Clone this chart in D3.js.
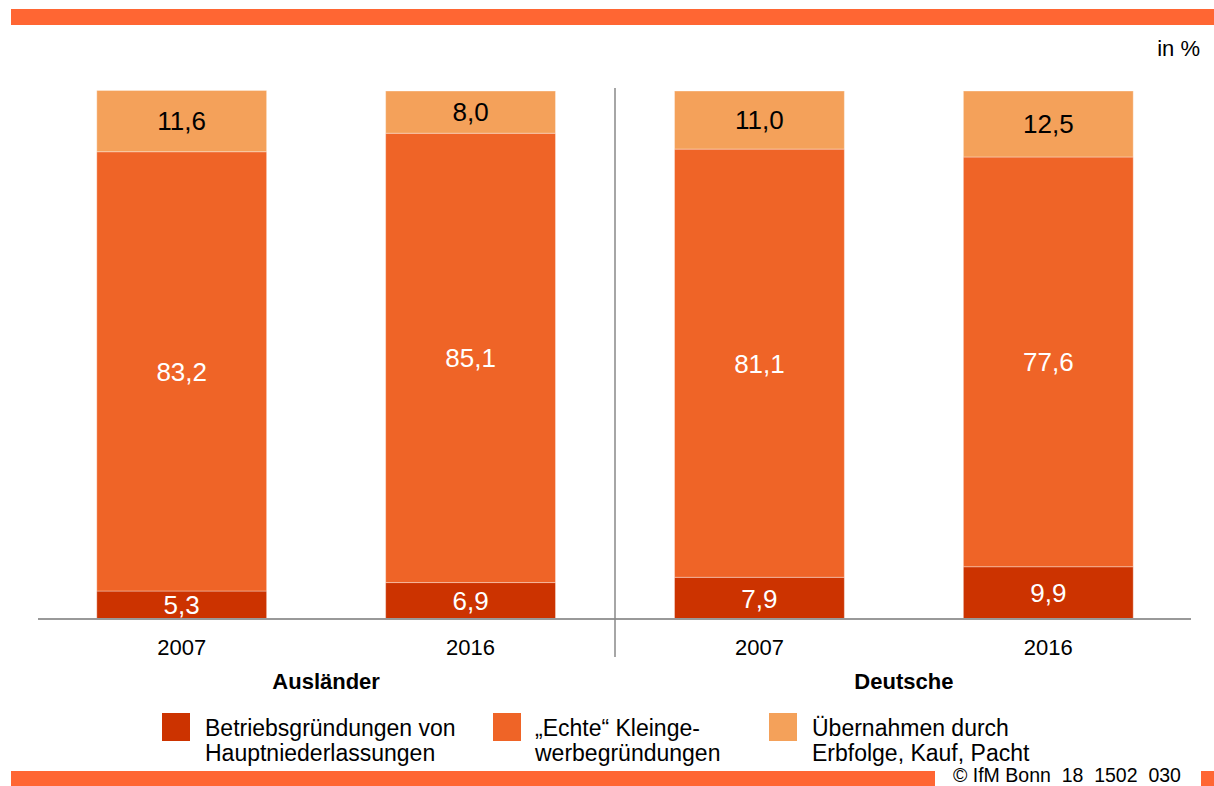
<!DOCTYPE html>
<html>
<head>
<meta charset="utf-8">
<script src="https://d3js.org/d3.v7.min.js"></script>
<style>
  body { margin: 0; background: #fff; }
  #plot { width: 1214px; height: 786px; }
  text { font-family: 'Liberation Sans', Arial, sans-serif; }
</style>
</head>
<body>
<div id="plot"></div>
<script>
// chart data
const groups = ['Ausländer', 'Deutsche'];
const years = ['2007', '2016'];
const seriesNames = [
  ['Betriebsgründungen von', 'Hauptniederlassungen'],
  ['„Echte“ Kleinge-', 'werbegründungen'],
  ['Übernahmen durch', 'Erbfolge, Kauf, Pacht']
];
const betrieb = [5.3, 6.9, 7.9, 9.9];
const echte = [83.2, 85.1, 81.1, 77.6];
const uebernahmen = [11.6, 8.0, 11.0, 12.5];
const unitLabel = 'in %';
const sourceLabel = '© IfM Bonn  18  1502  030';

const colors = ['#CC3300', '#EF6427', '#F4A15A'];
const accent = '#FF6633';

const W = 1214, H = 786;
const svg = d3.select('#plot').append('svg')
  .attr('width', W)
  .attr('height', H);

// top and bottom decoration bars
svg.append('rect').attr('x', 11).attr('y', 9).attr('width', W - 11).attr('height', 16).attr('fill', accent);
svg.append('rect').attr('x', 11).attr('y', 771).attr('width', 924).attr('height', 15).attr('fill', accent);
svg.append('rect').attr('x', 1201).attr('y', 771).attr('width', 13).attr('height', 15).attr('fill', accent);

// build rows (one per bar)
const rows = [];
groups.forEach((g, gi) => {
  years.forEach((y, yi) => {
    const i = gi * years.length + yi;
    rows.push({ key: g + '-' + y, group: g, year: y, values: [betrieb[i], echte[i], uebernahmen[i]] });
  });
});

const x = d3.scaleBand()
  .domain(rows.map(d => d.key))
  .range([39, 1191])
  .paddingInner(0.412)
  .paddingOuter(0.2);

const y = d3.scaleLinear().domain([0, 100]).range([619, 91]);

// stacked segments
const stackData = rows.map(r => {
  const obj = { key: r.key };
  r.values.forEach((v, k) => { obj['s' + k] = v; });
  return obj;
});
const stack = d3.stack().keys(['s0', 's1', 's2'])(stackData);

const layers = svg.append('g').selectAll('g.layer')
  .data(stack)
  .enter().append('g')
  .attr('class', 'layer')
  .attr('fill', (d, i) => colors[i]);

layers.selectAll('rect')
  .data(d => d)
  .enter().append('rect')
  .attr('x', d => x(d.data.key))
  .attr('y', d => y(d[1]))
  .attr('width', x.bandwidth())
  .attr('height', d => y(d[0]) - y(d[1]))
  .attr('stroke', '#fff')
  .attr('stroke-opacity', 0.35)
  .attr('stroke-width', 1);

layers.each(function (layer, li) {
  d3.select(this).selectAll('text')
    .data(layer)
    .enter().append('text')
    .attr('x', d => x(d.data.key) + x.bandwidth() / 2)
    .attr('y', d => (y(d[0]) + y(d[1])) / 2)
    .attr('dy', '0.36em')
    .attr('text-anchor', 'middle')
    .attr('fill', li === 2 ? '#000' : '#fff')
    .style('font-size', '26px')
    .text(d => d3.format('.1f')(d[1] - d[0]).replace('.', ','));
});

// baseline
svg.append('line')
  .attr('x1', 38).attr('x2', 1191)
  .attr('y1', y(0)).attr('y2', y(0))
  .attr('stroke', '#999').attr('stroke-width', 2);

// group divider
const divX = (x(rows[1].key) + x.bandwidth() + x(rows[2].key)) / 2;
svg.append('line')
  .attr('x1', divX).attr('x2', divX)
  .attr('y1', 88).attr('y2', 657)
  .attr('stroke', '#888').attr('stroke-width', 1.5);

// year labels
svg.append('g').selectAll('text')
  .data(rows)
  .enter().append('text')
  .attr('x', d => x(d.key) + x.bandwidth() / 2)
  .attr('y', 655)
  .attr('text-anchor', 'middle')
  .style('font-size', '22px')
  .text(d => d.year);

// group labels
svg.append('g').selectAll('text')
  .data(groups)
  .enter().append('text')
  .attr('x', g => {
    const ks = rows.filter(r => r.group === g).map(r => x(r.key) + x.bandwidth() / 2);
    return d3.mean(ks);
  })
  .attr('y', 689)
  .attr('text-anchor', 'middle')
  .style('font-size', '22px')
  .style('font-weight', 'bold')
  .text(g => g);

// unit label
svg.append('text')
  .attr('x', 1200).attr('y', 56)
  .attr('text-anchor', 'end')
  .style('font-size', '22px')
  .text(unitLabel);

// legend
const legendX = [162, 493, 769];
const legend = svg.append('g').selectAll('g')
  .data(seriesNames)
  .enter().append('g')
  .attr('transform', (d, i) => `translate(${legendX[i]},713)`);

legend.append('rect')
  .attr('width', 28).attr('height', 28)
  .attr('fill', (d, i) => colors[i]);

legend.append('text')
  .attr('x', (d, i) => i === 1 ? 42 : 43)
  .attr('y', 23)
  .style('font-size', '23px')
  .selectAll('tspan')
  .data(d => d)
  .enter().append('tspan')
  .attr('x', function () { return d3.select(this.parentNode).attr('x'); })
  .attr('dy', (d, i) => i === 0 ? 0 : 25)
  .text(d => d);

// source
svg.append('text')
  .attr('x', 953).attr('y', 782)
  .style('font-size', '19.5px')
  .style('white-space', 'pre')
  .attr('xml:space', 'preserve')
  .text(sourceLabel);
</script>
</body>
</html>
